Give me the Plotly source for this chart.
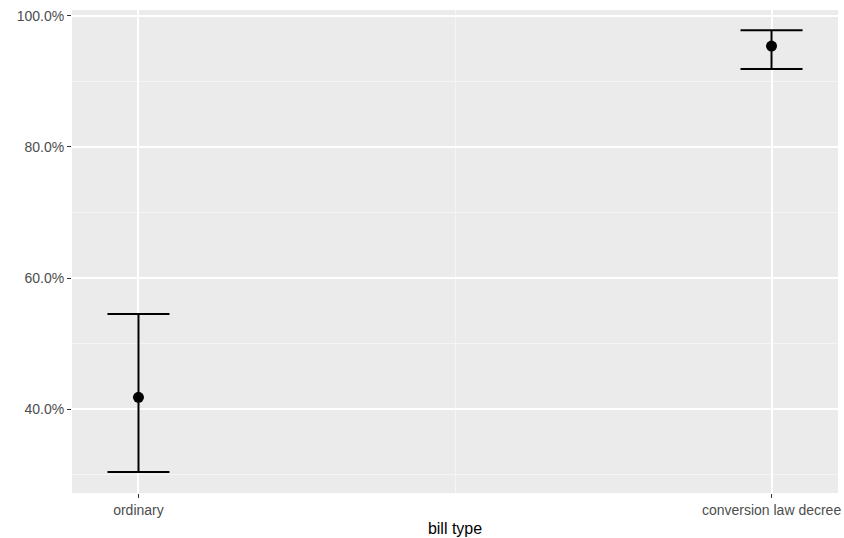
import plotly.graph_objects as go

categories = ["ordinary", "conversion law decree"]
x_pos = [0, 1]
estimate = [0.418, 0.954]
upper = [0.545, 0.978]
lower = [0.304, 0.919]

fig = go.Figure()
fig.add_trace(go.Scatter(
    x=x_pos, y=estimate, mode="markers",
    marker=dict(color="black", size=11),
    error_y=dict(type="data", symmetric=False,
                 array=[u - e for u, e in zip(upper, estimate)],
                 arrayminus=[e - l for e, l in zip(estimate, lower)],
                 color="black", thickness=2, width=31),
    showlegend=False, hoverinfo="skip"))

fig.update_layout(
    width=844, height=538,
    margin=dict(l=72, r=6, t=10, b=45),
    paper_bgcolor="white", plot_bgcolor="#EBEBEB",
    font=dict(family="Liberation Sans, Arial, sans-serif", color="#4D4D4D", size=14),
    xaxis=dict(range=[-0.105, 1.105], tickvals=x_pos, ticktext=categories,
               automargin=False,
               showgrid=True, gridcolor="white", gridwidth=1.6, zeroline=False,
               ticks="outside", ticklen=4, tickcolor="#333333", tickwidth=1.2,
               tickfont=dict(size=14, color="#4D4D4D"),
               minor=dict(tickvals=[0.5], showgrid=True, gridcolor="#F5F5F5", gridwidth=0.8),
               title=dict(text="bill type", font=dict(size=16, color="black"), standoff=6)),
    yaxis=dict(range=[0.272, 1.009], tickvals=[0.4, 0.6, 0.8, 1.0], tickformat=".1%",
               automargin=False,
               showgrid=True, gridcolor="white", gridwidth=1.6, zeroline=False,
               ticks="outside", ticklen=4, tickcolor="#333333", tickwidth=1.2,
               tickfont=dict(size=14, color="#4D4D4D"),
               minor=dict(tickvals=[0.3, 0.5, 0.7, 0.9], showgrid=True, gridcolor="#F5F5F5", gridwidth=0.8)),
)

fig.write_html("out.html", config={"displayModeBar": False},
               post_script="document.body.style.margin='0';document.body.style.overflow='hidden';")
